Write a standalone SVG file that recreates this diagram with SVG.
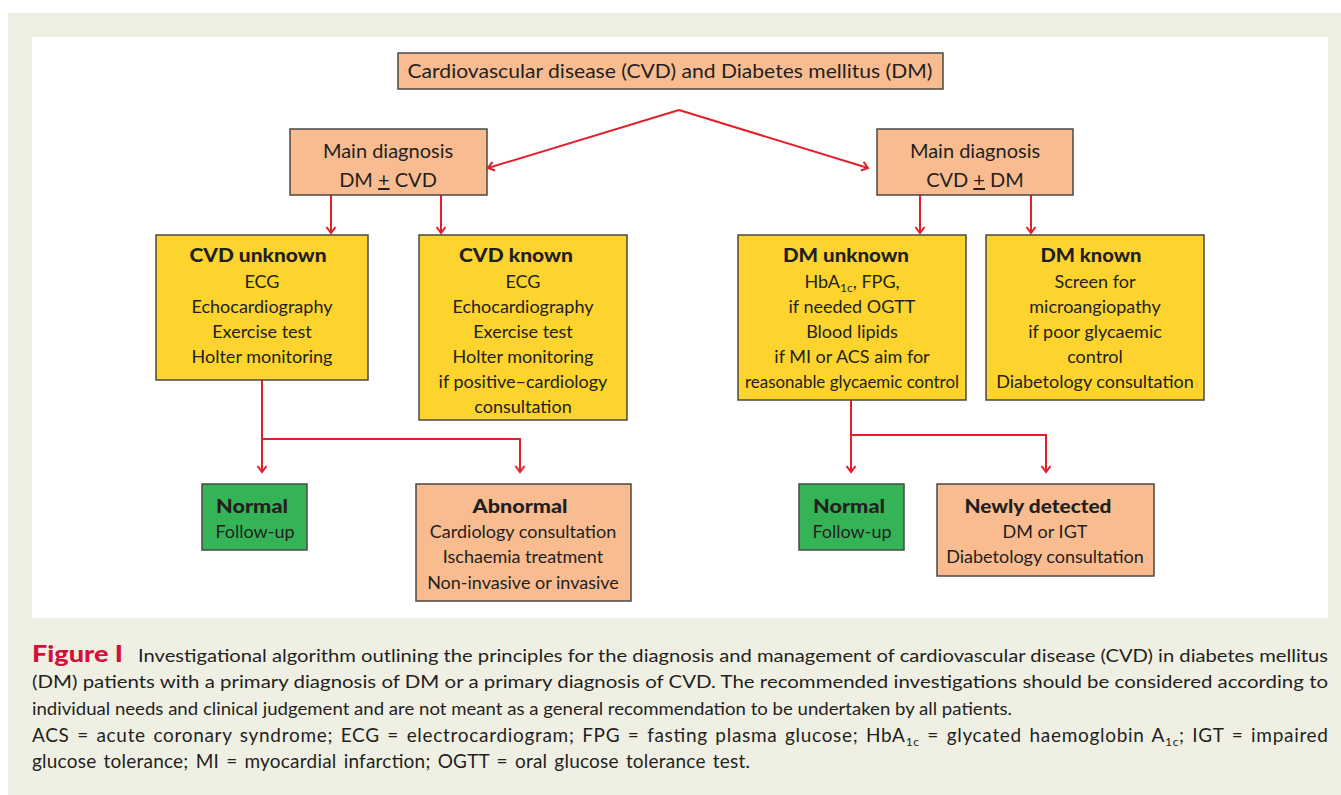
<svg xmlns="http://www.w3.org/2000/svg" width="1341" height="795" viewBox="0 0 1341 795">
<style>
.box{stroke:#4a4843;stroke-width:1.5}
.sal{fill:#f9bc90}
.yel{fill:#fdd42d}
.grn{fill:#35b457}
.t{font-family:Lato,"Open Sans","Liberation Sans",sans-serif;fill:#231f20;text-anchor:middle;font-size:18px}
.b{font-weight:900;font-size:19px}
.big{font-size:20px}
.cap{font-family:Lato,"Liberation Sans",sans-serif;fill:#231f20;font-size:18px}
.cap2{font-family:Lato,"Liberation Sans",sans-serif;fill:#231f20;font-size:19px}
.con{fill:none;stroke:#e3202a;stroke-width:2}
</style>
<defs>
<marker id="ah" viewBox="0 0 12 12" refX="10" refY="6" markerWidth="12" markerHeight="12" markerUnits="userSpaceOnUse" orient="auto">
<path d="M4,1.5 L10,6 L4,10.5" fill="none" stroke="#e3202a" stroke-width="2"/>
</marker>
</defs>
<rect x="0" y="0" width="1341" height="795" fill="#ffffff"/>
<rect x="8" y="13" width="1333" height="782" fill="#efefe4"/>
<rect x="32" y="37" width="1296" height="581" fill="#ffffff"/>

<g id="connectors">
<polyline class="con" points="679,110 488,168" marker-end="url(#ah)"/>
<polyline class="con" points="679,110 868,168" marker-end="url(#ah)"/>
<line class="con" x1="331" y1="195" x2="331" y2="233" marker-end="url(#ah)"/>
<line class="con" x1="441" y1="195" x2="441" y2="233" marker-end="url(#ah)"/>
<line class="con" x1="920" y1="195" x2="920" y2="233" marker-end="url(#ah)"/>
<line class="con" x1="1031" y1="195" x2="1031" y2="233" marker-end="url(#ah)"/>
<polyline class="con" points="262,380 262,439"/>
<line class="con" x1="262" y1="439" x2="262" y2="472" marker-end="url(#ah)"/>
<polyline class="con" points="262,439 520,439 520,472" marker-end="url(#ah)"/>
<polyline class="con" points="851,400 851,435"/>
<line class="con" x1="851" y1="435" x2="851" y2="472" marker-end="url(#ah)"/>
<polyline class="con" points="851,435 1046,435 1046,472" marker-end="url(#ah)"/>
</g>

<g id="top">
<rect class="box sal" x="398" y="53" width="545" height="36"/>
<text class="t big" x="670" y="78" textLength="525" lengthAdjust="spacingAndGlyphs">Cardiovascular disease (CVD) and Diabetes mellitus (DM)</text>
</g>

<g id="main-dm">
<rect class="box sal" x="290" y="129" width="197" height="66"/>
<text class="t big" x="388" y="158">Main diagnosis</text>
<text class="t big" x="388" y="187">DM <tspan text-decoration="underline">+</tspan> CVD</text>
</g>

<g id="main-cvd">
<rect class="box sal" x="877" y="129" width="196" height="66"/>
<text class="t big" x="975" y="158">Main diagnosis</text>
<text class="t big" x="975" y="187">CVD <tspan text-decoration="underline">+</tspan> DM</text>
</g>

<g id="cvd-unknown">
<rect class="box yel" x="156" y="235" width="212" height="145"/>
<text class="t b" x="258" y="262" textLength="137" lengthAdjust="spacingAndGlyphs">CVD unknown</text>
<text class="t" x="262" y="288">ECG</text>
<text class="t" x="262" y="313">Echocardiography</text>
<text class="t" x="262" y="338">Exercise test</text>
<text class="t" x="262" y="363">Holter monitoring</text>
</g>

<g id="cvd-known">
<rect class="box yel" x="419" y="235" width="208" height="185"/>
<text class="t b" x="516" y="262" textLength="114" lengthAdjust="spacingAndGlyphs">CVD known</text>
<text class="t" x="523" y="288">ECG</text>
<text class="t" x="523" y="313">Echocardiography</text>
<text class="t" x="523" y="338">Exercise test</text>
<text class="t" x="523" y="363">Holter monitoring</text>
<text class="t" x="523" y="388">if positive–cardiology</text>
<text class="t" x="523" y="413">consultation</text>
</g>

<g id="dm-unknown">
<rect class="box yel" x="738" y="235" width="228" height="165"/>
<text class="t b" x="846" y="262" textLength="126" lengthAdjust="spacingAndGlyphs">DM unknown</text>
<text class="t" x="852" y="288">HbA<tspan font-size="12" dy="4">1c</tspan><tspan dy="-4">, FPG,</tspan></text>
<text class="t" x="852" y="313">if needed OGTT</text>
<text class="t" x="852" y="338">Blood lipids</text>
<text class="t" x="852" y="363">if MI or ACS aim for</text>
<text class="t" x="852" y="388" textLength="214" lengthAdjust="spacingAndGlyphs">reasonable glycaemic control</text>
</g>

<g id="dm-known">
<rect class="box yel" x="986" y="235" width="218" height="165"/>
<text class="t b" x="1091" y="262" textLength="101" lengthAdjust="spacingAndGlyphs">DM known</text>
<text class="t" x="1095" y="288">Screen for</text>
<text class="t" x="1095" y="313">microangiopathy</text>
<text class="t" x="1095" y="338">if poor glycaemic</text>
<text class="t" x="1095" y="363">control</text>
<text class="t" x="1095" y="388">Diabetology consultation</text>
</g>

<g id="normal-left">
<rect class="box grn" x="202" y="484" width="105" height="66"/>
<text class="t b" x="252" y="513" textLength="72" lengthAdjust="spacingAndGlyphs">Normal</text>
<text class="t" x="255" y="538">Follow-up</text>
</g>

<g id="abnormal">
<rect class="box sal" x="416" y="484" width="215" height="117"/>
<text class="t b" x="520" y="513" textLength="95" lengthAdjust="spacingAndGlyphs">Abnormal</text>
<text class="t" x="523" y="538">Cardiology consultation</text>
<text class="t" x="523" y="563">Ischaemia treatment</text>
<text class="t" x="523" y="589">Non-invasive or invasive</text>
</g>

<g id="normal-right">
<rect class="box grn" x="799" y="484" width="105" height="66"/>
<text class="t b" x="849" y="513" textLength="72" lengthAdjust="spacingAndGlyphs">Normal</text>
<text class="t" x="852" y="538">Follow-up</text>
</g>

<g id="newly">
<rect class="box sal" x="937" y="484" width="217" height="92"/>
<text class="t b" x="1038" y="513" textLength="147" lengthAdjust="spacingAndGlyphs">Newly detected</text>
<text class="t" x="1045" y="538">DM or IGT</text>
<text class="t" x="1045" y="563">Diabetology consultation</text>
</g>

<g id="caption">
<text x="32" y="662" font-family="Lato,'Liberation Sans',sans-serif" font-weight="900" font-size="22" fill="#d2103c" textLength="91" lengthAdjust="spacingAndGlyphs">Figure I</text>
<text class="cap" x="138" y="662" textLength="1190" lengthAdjust="spacingAndGlyphs">Investigational algorithm outlining the principles for the diagnosis and management of cardiovascular disease (CVD) in diabetes mellitus</text>
<text class="cap" x="32" y="688" textLength="1296" lengthAdjust="spacingAndGlyphs">(DM) patients with a primary diagnosis of DM or a primary diagnosis of CVD. The recommended investigations should be considered according to</text>
<text class="cap" x="32" y="715" textLength="980" lengthAdjust="spacingAndGlyphs">individual needs and clinical judgement and are not meant as a general recommendation to be undertaken by all patients.</text>
<text class="cap2" x="32" y="742" textLength="1296" lengthAdjust="spacing" word-spacing="2">ACS = acute coronary syndrome; ECG = electrocardiogram; FPG = fasting plasma glucose; HbA<tspan font-size="12" dy="4">1c</tspan><tspan dy="-4"> = glycated haemoglobin A</tspan><tspan font-size="12" dy="4">1c</tspan><tspan dy="-4">; IGT = impaired</tspan></text>
<text class="cap2" x="32" y="768" textLength="718" lengthAdjust="spacing" word-spacing="2">glucose tolerance; MI = myocardial infarction; OGTT = oral glucose tolerance test.</text>
</g>
</svg>
